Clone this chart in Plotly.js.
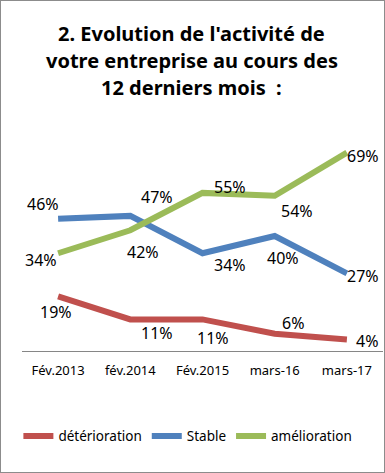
<!DOCTYPE html>
<html><head><meta charset="utf-8">
<script src="https://cdn.plot.ly/plotly-3.0.1.min.js"></script>
<style>
html,body{margin:0;padding:0;background:#fff;}
#chart{width:383px;height:471px;border:1px solid #8c8c8c;}
</style></head>
<body><div id="chart"></div>
<script>
const categories = ["Fév.2013","fév.2014","Fév.2015","mars-16","mars-17"];
const seriesNames = ["détérioration","Stable","amélioration"];
const deterioration = [19,11,11,6,4];
const stable = [46,47,34,40,27];
const amelioration = [34,42,55,54,69];
const titleLines = ["2. Evolution de l'activité de","votre entreprise au cours des","12 derniers mois  :"];
const colors = ["#C0504D","#4F81BD","#9BBB59"];
// label offsets (px) per point, styling only
const offsets = [
  [[-2,-16],[27,-14],[10,-19],[18,11],[20,-1]],
  [[-15,15],[27,19],[27,-12],[8,-22],[16,-3]],
  [[-17,-7],[13,-22],[27,6],[22,-15],[16,-3]]
];
const series = [deterioration, stable, amelioration];
const traces = series.map((vals,i)=>({
  type:"scatter", mode:"lines", x:categories, y:vals, name:seriesNames[i],
  line:{color:colors[i], width:6}, hoverinfo:"skip"
}));
const annotations = [];
series.forEach((vals,i)=>{
  vals.forEach((v,j)=>{
    annotations.push({x:categories[j], y:v, xref:"x", yref:"y", text:v+"%", showarrow:false,
      xshift:offsets[i][j][0], yshift:offsets[i][j][1],
      font:{family:"Noto Sans, sans-serif", size:16, color:"#000"}});
  });
});
const titleY = [1.3826, 1.265, 1.1435];
titleLines.forEach((t,k)=>{
  annotations.push({text:"<b>"+t+"</b>", xref:"paper", yref:"paper", x:0.47, y:titleY[k],
    xanchor:"center", yanchor:"middle", showarrow:false,
    font:{family:"Noto Sans, sans-serif", size:20, color:"#000"}});
});
const layout = {
  width:383, height:471,
  margin:{l:21, r:1, t:120, b:121},
  paper_bgcolor:"#fff", plot_bgcolor:"#fff",
  xaxis:{type:"category", range:[-0.5,4.5], showline:true, linecolor:"#868686", linewidth:1,
    ticks:"", showgrid:false, zeroline:false, ticklabelstandoff:7,
    tickfont:{family:"Noto Sans, sans-serif", size:13, color:"#000"}},
  yaxis:{range:[0,80], showgrid:false, zeroline:false, showticklabels:false, showline:false},
  showlegend:true,
  legend:{orientation:"h", x:-0.01, xanchor:"left", y:-0.37, yanchor:"middle",
    font:{family:"Noto Sans, sans-serif", size:13.5, color:"#000"}, itemwidth:30, tracegroupgap:0},
  annotations:annotations
};
Plotly.newPlot("chart", traces, layout, {displayModeBar:false, staticPlot:true});
</script></body></html>
